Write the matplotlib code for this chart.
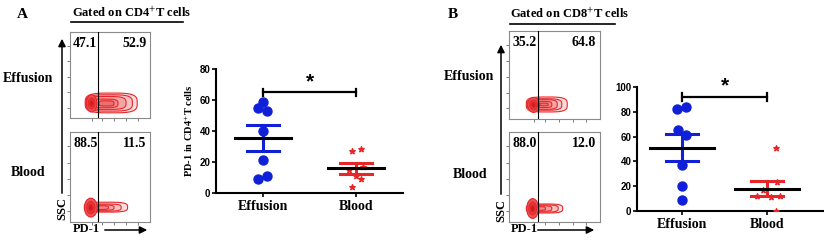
import numpy as np
import matplotlib.pyplot as plt
from matplotlib.patches import Polygon, Ellipse

plt.rcParams['mathtext.fontset'] = 'stix'

# =========================
# DATA
# =========================
groups = ['Effusion', 'Blood']

# panel A (CD4)
a_eff = [59, 55, 53, 40, 21, 9, 11]
a_eff_dx = [0.0, -0.05, 0.05, 0.0, 0.0, -0.05, 0.05]
a_blood = [27, 28.5, 16.5, 15, 9, 4, 11]
a_blood_dx = [-0.05, 0.05, 0.07, -0.08, 0.05, -0.05, 0.0]
a_yticks = [0, 20, 40, 60, 80]

# panel B (CD8)
b_eff = [82, 84, 65, 61, 37, 20, 9]
b_eff_dx = [-0.06, 0.05, -0.05, 0.05, 0.0, 0.0, 0.0]
b_blood = [51, 23, 17, 12, 11, 12, 0]
b_blood_dx = [0.1, 0.12, -0.05, -0.12, 0.05, 0.15, 0.1]
b_yticks = [0, 20, 40, 60, 80, 100]

# flow quadrant percentages
a_eff_pct = ['47.1', '52.9']
a_blood_pct = ['88.5', '11.5']
b_eff_pct = ['35.2', '64.8']
b_blood_pct = ['88.0', '12.0']

# contour levels (x0, x1, y0, y1) outer -> inner, plus dense core (cx, cy, w, h)
a_eff_levels = [(19, 84, 6, 29), (20, 78, 8, 27), (21, 70, 10, 25), (25, 60, 12, 22), (36, 55, 14, 20)]
a_eff_core = (27, 17, 13, 20)
a_blood_levels = [(18, 72, 11, 22), (19, 64, 12, 20), (22, 55, 13, 19), (30, 48, 14, 18)]
a_blood_core = (26, 16, 16, 21)
b_eff_levels = [(19, 64, 8, 25), (20, 58, 10, 23), (21, 53, 11, 22), (28, 47, 13, 20), (34, 43, 15, 18)]
b_eff_core = (27, 16, 13, 17)
b_blood_levels = [(19, 59, 10, 20), (20, 54, 11, 19), (22, 47, 12, 18), (29, 40, 13, 17)]
b_blood_core = (26, 15, 13, 22)

level_colors = ['#fcdede', '#f8c2c2', '#f4a6a6', '#f08a8a', '#ec7070']
core_colors = ['#ea5656', '#e03a3a', '#c81e1e']

serif = 'Liberation Serif'
sans = 'Liberation Sans'
red = '#e8262a'

fig = plt.figure(figsize=(8.24, 2.44), dpi=100)
W, H = 824, 244


def px_axes(x0, y0, x1, y1):
    # axes placed by pixel box (top-left origin)
    return fig.add_axes([x0 / W, (H - y1) / H, (x1 - x0) / W, (y1 - y0) / H])


def blob(x0, x1, y0, y1, n=3.5):
    # rounded (superellipse) outline for one contour level
    t = np.linspace(0, 2 * np.pi, 120)
    c, s = np.cos(t), np.sin(t)
    x = (x0 + x1) / 2 + (x1 - x0) / 2 * np.sign(c) * np.abs(c) ** (2 / n)
    y = (y0 + y1) / 2 + (y1 - y0) / 2 * np.sign(s) * np.abs(s) ** (2 / n)
    return np.column_stack([x, y])


def flow_box(box, gate, pct, levels, core):
    ax = px_axes(*box)
    ax.set_xlim(0, 100)
    ax.set_ylim(0, 100)
    ax.set_xticks([27, 40, 55, 70, 85])
    ax.set_yticks([12, 30, 48, 66, 84])
    ax.tick_params(length=2, width=0.6, color='#666666', labelbottom=False, labelleft=False)
    for s in ax.spines.values():
        s.set_linewidth(0.8)
        s.set_color('#8a8a8a')
    ax.axvline(gate, color='black', lw=0.8, zorder=5)
    ax.text(4, 94, pct[0], ha='left', va='top', fontsize=10, fontweight='bold', family=serif)
    ax.text(96, 94, pct[1], ha='right', va='top', fontsize=10, fontweight='bold', family=serif)
    for i, (x0, x1, y0, y1) in enumerate(levels):
        ax.add_patch(Polygon(blob(x0, x1, y0, y1), facecolor=level_colors[i],
                             edgecolor=red, lw=0.8))
    cx, cy, w, h = core
    for k, f in enumerate([1.0, 0.65, 0.35]):
        ax.add_patch(Ellipse((cx, cy), w * f, h * f, facecolor=core_colors[k],
                             edgecolor=red, lw=0.8))
    return ax


def scatter_panel(box, eff, eff_dx, blood, blood_dx, yticks, xlim, mean_hw, cap_hw, br_y, ylabel):
    ax = px_axes(*box)
    ax.scatter(np.array(eff_dx), eff, s=42, color='#1020d8', zorder=3)
    ax.scatter(1 + np.array(blood_dx), blood, s=16, marker='*', color=red, zorder=3)
    for i, (vals, col) in enumerate([(eff, '#1020d8'), (blood, red)]):
        m = np.mean(vals)
        sem = np.std(vals, ddof=1) / np.sqrt(len(vals))
        ax.plot([i - mean_hw, i + mean_hw], [m, m], color='black', lw=2.2, zorder=4)
        ax.plot([i, i], [m - sem, m + sem], color=col, lw=2.2, zorder=2)
        ax.plot([i - cap_hw, i + cap_hw], [m + sem, m + sem], color=col, lw=2.2, zorder=2)
        ax.plot([i - cap_hw, i + cap_hw], [m - sem, m - sem], color=col, lw=2.2, zorder=2)
    top = yticks[-1]
    ax.plot([0, 1], [br_y, br_y], color='black', lw=1.6)
    ax.plot([0, 0], [br_y - top * 0.03, br_y + top * 0.03], color='black', lw=1.6)
    ax.plot([1, 1], [br_y - top * 0.03, br_y + top * 0.03], color='black', lw=1.6)
    ax.text(0.5, br_y + top * 0.01, '*', ha='center', va='bottom', fontsize=15,
            fontweight='bold', family=sans)
    ax.set_xlim(*xlim)
    ax.set_ylim(0, top)
    ax.set_yticks(yticks)
    ax.set_xticks([0, 1])
    ax.set_xticklabels(groups, fontsize=10, fontweight='bold', family=serif)
    for lab in ax.get_yticklabels():
        lab.set_fontsize(7)
        lab.set_fontweight('bold')
        lab.set_family(sans)
    ax.tick_params(axis='y', length=3, width=1.2, pad=1)
    ax.tick_params(axis='x', length=3, width=1.2, pad=2)
    for s in ['top', 'right']:
        ax.spines[s].set_visible(False)
    for s in ['left', 'bottom']:
        ax.spines[s].set_linewidth(1.5)
    if ylabel:
        ax.set_ylabel(ylabel, fontsize=7.5, fontweight='bold', family=serif, labelpad=3)
    return ax


# flow panels
flow_box((70, 32, 150, 118), 35, a_eff_pct, a_eff_levels, a_eff_core)
flow_box((70, 132, 150, 222), 35, a_blood_pct, a_blood_levels, a_blood_core)
flow_box((509, 31, 600, 119), 32, b_eff_pct, b_eff_levels, b_eff_core)
flow_box((509, 132, 600, 222), 32, b_blood_pct, b_blood_levels, b_blood_core)

# scatter panels
scatter_panel((216, 69, 403, 193), a_eff, a_eff_dx, a_blood, a_blood_dx, a_yticks,
              (-0.5, 1.5), 0.3, 0.17, 65, r'PD-1 in CD4$^{+}$T cells')
scatter_panel((637, 87, 824, 211), b_eff, b_eff_dx, b_blood, b_blood_dx, b_yticks,
              (-0.53, 1.67), 0.38, 0.19, 92, None)

# overlay for labels and arrows (pixel coordinates)
ov = fig.add_axes([0, 0, 1, 1], zorder=10)
ov.set_xlim(0, W)
ov.set_ylim(H, 0)
ov.axis('off')
ov.patch.set_alpha(0)

tk = dict(fontweight='bold', family=serif)
ov.text(22, 14, 'A', fontsize=11, ha='center', va='center', **tk)
ov.text(453, 14, 'B', fontsize=11, ha='center', va='center', **tk)
ov.text(72, 13, r'Gated on CD4$^{+}$T cells', fontsize=9, ha='left', va='center', **tk)
ov.plot([71, 183], [22, 22], color='black', lw=1.2)
ov.text(510, 14, r'Gated on CD8$^{+}$T cells', fontsize=9, ha='left', va='center', **tk)
ov.plot([510, 615], [24, 24], color='black', lw=1.2)

ov.text(28, 79, 'Effusion', fontsize=10, ha='center', va='center', **tk)
ov.text(28, 172, 'Blood', fontsize=10, ha='center', va='center', **tk)
ov.text(469, 76, 'Effusion', fontsize=10, ha='center', va='center', **tk)
ov.text(470, 175, 'Blood', fontsize=10, ha='center', va='center', **tk)

arr = dict(arrowstyle='-|>', lw=1.1, color='black', mutation_scale=11)
ov.annotate('', xy=(62, 36), xytext=(62, 196), arrowprops=arr)
ov.text(62, 208, 'SSC', rotation=90, fontsize=9, ha='center', va='center', **tk)
ov.text(73, 229, 'PD-1', fontsize=9, ha='left', va='center', **tk)
ov.annotate('', xy=(150, 230), xytext=(102, 230), arrowprops=arr)

ov.annotate('', xy=(501, 42), xytext=(501, 197), arrowprops=arr)
ov.text(501, 210, 'SSC', rotation=90, fontsize=9, ha='center', va='center', **tk)
ov.text(511, 229, 'PD-1', fontsize=9, ha='left', va='center', **tk)
ov.annotate('', xy=(597, 230), xytext=(535, 230), arrowprops=arr)

fig.savefig('out.png', dpi=100)
